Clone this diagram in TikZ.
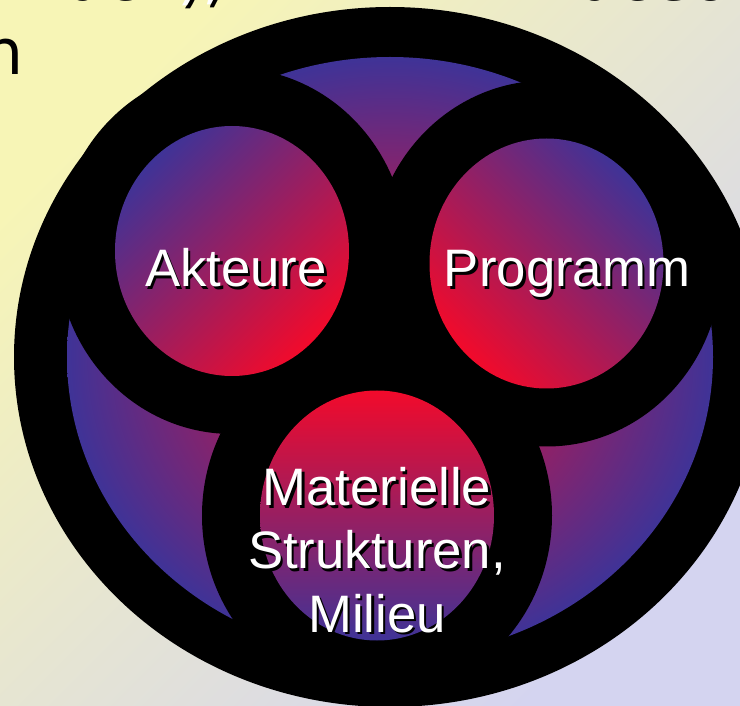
\documentclass[tikz,border=0pt]{standalone}
\usepackage{fontspec}
\setmainfont{Liberation Sans}
\newfontfamily\bodyfont{DejaVu Sans}
\usepackage{tikz}
\usetikzlibrary{positioning}
\definecolor{discred}{HTML}{F20A2B}
\definecolor{discblue}{HTML}{3F3397}
\definecolor{bgyellow}{HTML}{F7F5B6}
\definecolor{bglilac}{HTML}{D4D4F0}

\begin{document}
\begin{tikzpicture}[
        ring/.style={fill=black},
        disc/.style={top color=discblue, bottom color=discred},
        cirtext/.style={text=white, font=\fontsize{30}{36}\selectfont, align=center, inner sep=0pt},
        cirshadow/.style={cirtext, text=black},
        bodytext/.style={font=\bodyfont\fontsize{36}{43}\selectfont, inner sep=0pt}
    ]
        \useasboundingbox (0,0) rectangle (14.8,-14.12);
        \clip (0,0) rectangle (14.8,-14.12);
        \shade[top color=bgyellow, bottom color=bglilac, shading angle=45] (0,0) rectangle (14.8,-14.12);

        \node[bodytext, anchor=base west] (body-n) at (-0.34,-1.5) {n};
        \node[bodytext, anchor=base east, text=black] (title-ls) at (4.51,-0.01) {Luch),};
        \node[bodytext, anchor=base east, text=white] (title-l) at (4.46,0.04) {Luch),};
        \node[bodytext, anchor=base west, text=black] (title-rs) at (11.55,-0.02) {uceon};
        \node[bodytext, anchor=base west, text=white] (title-r) at (11.5,0.03) {uceon};

        \coordinate (big) at (7.8,-7.14);
        \coordinate (akt) at (4.64,-5.02);
        \coordinate (prg) at (10.93,-5.27);
        \coordinate (mat) at (7.54,-10.31);

        \fill[ring] (big) ellipse [x radius=7.52, y radius=7.0];
        \shade[inner color=discred, outer color=discblue] (big) ellipse [x radius=6.46, y radius=6.0];
        \foreach \c in {akt, prg, mat}
            \fill[ring] (\c) ellipse [x radius=3.5, y radius=3.66];

        \shade[disc, shading angle=45] (akt) ellipse [x radius=2.34, y radius=2.5];
        \shade[disc, shading angle=-45] (prg) ellipse [x radius=2.34, y radius=2.5];
        \shade[top color=discred, bottom color=discblue] (mat) ellipse [x radius=2.34, y radius=2.5];

        \node[cirshadow, anchor=base] (akt-s) at (4.77,-5.79) {Akteure};
        \node[cirtext, anchor=base] (akt-l) at (4.72,-5.74) {Akteure};

        \node[cirshadow, anchor=base] (prg-s) at (11.39,-5.79) {Programm};
        \node[cirtext, anchor=base] (prg-l) at (11.34,-5.74) {Programm};

        \node[cirshadow] (mat-s) at (7.59,-11.05) {Materielle\\Strukturen,\\Milieu};
        \node[cirtext] (mat-l) at (7.54,-11.0) {Materielle\\Strukturen,\\Milieu};
    \end{tikzpicture}
\end{document}
